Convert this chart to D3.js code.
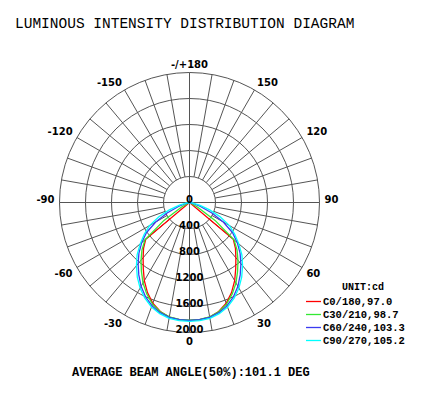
<!DOCTYPE html>
<html>
<head>
<meta charset="utf-8">
<script src="https://cdn.jsdelivr.net/npm/d3@7"></script>
<style>
  body { margin: 0; background: #fff; }
  svg { display: block; }
</style>
</head>
<body>
<div id="chart"></div>
<script>
// gamma angles (deg from nadir) and intensities (cd) per C-plane
const gammaAngles = [0, 5, 10, 15, 20, 25, 30, 35, 40, 45, 50, 55, 60, 65, 70, 75, 80, 85, 90];
const c0 = [1815, 1810, 1790, 1735, 1650, 1530, 1390, 1240, 1110, 1000, 880, 0, 0, 0, 0, 0, 0, 0, 0];
const c30 = [1810, 1805, 1785, 1740, 1665, 1555, 1430, 1290, 1160, 1035, 895, 480, 140, 0, 0, 0, 0, 0, 0];
const c60 = [1815, 1810, 1795, 1755, 1690, 1600, 1490, 1360, 1230, 1100, 960, 810, 600, 380, 180, 60, 0, 0, 0];
const c90 = [1830, 1825, 1810, 1770, 1710, 1625, 1520, 1400, 1270, 1140, 990, 850, 710, 520, 330, 160, 40, 0, 0];
const seriesNames = ['C0/180,97.0', 'C30/210,98.7', 'C60/240,103.3', 'C90/270,105.2'];
const seriesColors = ['#ff0000', '#33e833', '#3b3bf0', '#00ffff'];
const ringTicks = [0, 400, 800, 1200, 1600, 2000];
const angleTicks = [0, 30, 60, 90, 120, 150, 180, -150, -120, -90, -60, -30];
const angleLabels = ['0', '30', '60', '90', '120', '150', '-/+180', '-150', '-120', '-90', '-60', '-30'];

const width = 435, height = 393;
const cx = 189.5, cy = 202.5, R = 130;

const svg = d3.select('#chart').append('svg')
  .attr('width', width)
  .attr('height', height);

svg.append('text')
  .attr('x', 15).attr('y', 28)
  .style('font-family', '"Liberation Mono", monospace')
  .style('font-size', '14.5px')
  .text('LUMINOUS INTENSITY DISTRIBUTION DIAGRAM');

const r = d3.scaleLinear().domain([0, 2000]).range([0, R]);
// gamma 0 points down, positive to the right
const toRad = g => Math.PI - g * Math.PI / 180;

const g = svg.append('g').attr('transform', `translate(${cx},${cy})`);

// rings
g.selectAll('circle.ring')
  .data(ringTicks.filter(d => d > 0))
  .enter().append('circle')
  .attr('class', 'ring')
  .attr('r', d => r(d))
  .attr('fill', 'none')
  .attr('stroke', '#555')
  .attr('stroke-width', 1);

// spokes every 10 deg
const spokes = d3.range(0, 360, 10);
g.selectAll('line.spoke')
  .data(spokes)
  .enter().append('line')
  .attr('class', 'spoke')
  .attr('x1', d => (d % 90 === 0 ? 0 : r(400)) * Math.sin(toRad(d)))
  .attr('y1', d => -(d % 90 === 0 ? 0 : r(400)) * Math.cos(toRad(d)))
  .attr('x2', d => r(2000) * Math.sin(toRad(d)))
  .attr('y2', d => -r(2000) * Math.cos(toRad(d)))
  .attr('stroke', '#555')
  .attr('stroke-width', 1);

// curves, mirrored on both sides of nadir
const series = [c0, c30, c60, c90];
const line = d3.lineRadial()
  .angle(d => toRad(d.g))
  .radius(d => r(d.v))
  .curve(d3.curveLinear);

series.forEach((vals, i) => {
  const pts = [];
  for (let k = gammaAngles.length - 1; k > 0; k--) pts.push({ g: -gammaAngles[k], v: vals[k] });
  gammaAngles.forEach((ga, k) => pts.push({ g: ga, v: vals[k] }));
  g.append('path')
    .attr('d', line(pts))
    .attr('fill', 'none')
    .attr('stroke', seriesColors[i])
    .attr('stroke-width', 1.3);
});

// ring labels
g.selectAll('text.ringLabel')
  .data(ringTicks)
  .enter().append('text')
  .attr('class', 'ringLabel')
  .attr('x', 0)
  .attr('y', d => r(d))
  .attr('text-anchor', 'middle')
  .style('font-family', '"DejaVu Sans", sans-serif')
  .style('font-size', '10px')
  .style('font-weight', 'bold')
  .text(d => d);

// angle labels
const labR = 135;
g.selectAll('text.angleLabel')
  .data(angleTicks)
  .enter().append('text')
  .attr('class', 'angleLabel')
  .attr('x', d => labR * Math.sin(toRad(d)))
  .attr('y', d => -labR * Math.cos(toRad(d)))
  .attr('text-anchor', d => {
    const s = Math.sin(toRad(d));
    return s > 0.01 ? 'start' : (s < -0.01 ? 'end' : 'middle');
  })
  .attr('dominant-baseline', d => (-Math.cos(toRad(d)) > 0.01 ? 'hanging' : 'alphabetic'))
  .style('font-family', '"DejaVu Sans", sans-serif')
  .style('font-size', '10px')
  .style('font-weight', 'bold')
  .text((d, i) => angleLabels[i]);

// legend
const legend = svg.append('g');
legend.append('text')
  .attr('x', 342).attr('y', 290)
  .style('font-family', '"Liberation Mono", monospace')
  .style('font-size', '10px')
  .style('font-weight', 'bold')
  .text('UNIT:cd');

const rows = legend.selectAll('g.row')
  .data(seriesNames)
  .enter().append('g')
  .attr('class', 'row')
  .attr('transform', (d, i) => `translate(0,${305 + i * 13})`);
rows.append('line')
  .attr('x1', 306).attr('x2', 321)
  .attr('y1', -3.5).attr('y2', -3.5)
  .attr('stroke', (d, i) => seriesColors[i])
  .attr('stroke-width', 1.3);
rows.append('text')
  .attr('x', 323).attr('y', 0)
  .style('font-family', '"Liberation Mono", monospace')
  .style('font-size', '10.5px')
  .style('font-weight', 'bold')
  .text(d => d);

svg.append('text')
  .attr('x', 72).attr('y', 376)
  .style('font-family', '"Liberation Mono", monospace')
  .style('font-size', '12px')
  .style('font-weight', 'bold')
  .text('AVERAGE BEAM ANGLE(50%):101.1 DEG');
</script>
</body>
</html>
